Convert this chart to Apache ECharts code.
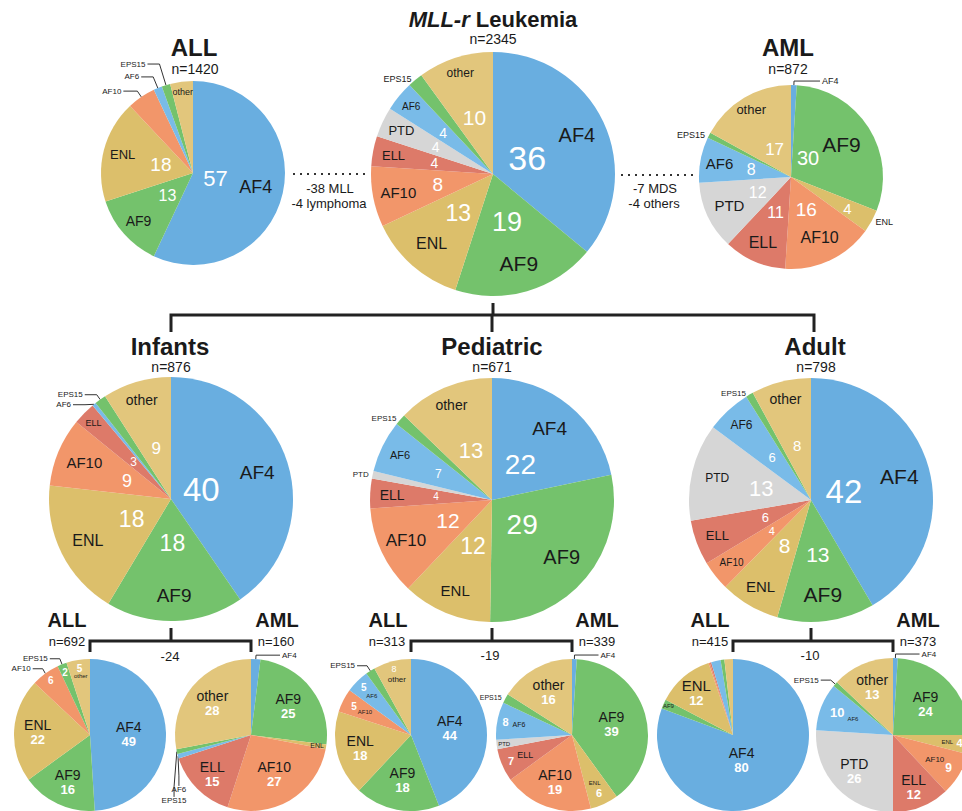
<!DOCTYPE html>
<html><head><meta charset="utf-8">
<script src="https://cdn.jsdelivr.net/npm/echarts@6/dist/echarts.min.js"></script>
<style>html,body{margin:0;padding:0;background:#fff}#c{width:962px;height:811px}</style>
</head><body><div id="c"></div>
<script>
// ---------- DATA ----------
const categories = ['AF4','AF9','ENL','AF10','ELL','PTD','AF6','EPS15','other'];
const totalValues        = [36,19,13,8,4,4,4,2,10];
const allValues          = [57,13,18,5,0,0,1.5,1.5,4];
const amlValues          = [1,30,4,16,11,12,8,1,17];
const infantValues       = [40,18,18,9,3,0,0.5,1.5,9];
const pediatricValues    = [22,29,12,12,4,1,7,1.5,13];
const adultValues        = [42,13,8,4,6,13,6,1,8];
const infantAllValues    = [49,16,22,6,0,0,0,2,5];
const infantAmlValues    = [2,25,1,27,15,0,1,1,28];
const pediatricAllValues = [44,18,18,5,0,0,5,2,8];
const pediatricAmlValues = [1,39,6,19,7,2,8,2,16];
const adultAllValues     = [80,2,12,0.3,0.3,0,2,0.8,1.8];
const adultAmlValues     = [1,24,4,9,12,26,10,1,13];
const groupNames  = ['ALL','AML','Infants','Pediatric','Adult'];
const groupCounts = {total:2345, all:1420, aml:872, inf:876, ped:671, adu:798,
                     infAll:692, infAml:160, pedAll:313, pedAml:339, aduAll:415, aduAml:373};
const excluded = {top:['-38 MLL','-4 lymphoma'], topR:['-7 MDS','-4 others'], inf:'-24', ped:'-19', adu:'-10'};

// ---------- STYLE ----------
const FONT = '"Liberation Sans", Arial, Helvetica, sans-serif';
const colors = {AF4:'#69aee0', AF9:'#74c26c', ENL:'#dcbf6b', AF10:'#f2966a', ELL:'#dd7a69',
                PTD:'#d6d6d6', AF6:'#79bbe8', EPS15:'#74c26c', other:'#e2c67c'};
const DARK = '#1a1a1a';
const N = (f, s, dA) => ({f, s, dA: dA || 0});
const B = (f, s, dA) => ({f, s, dA: dA || 0, bold: true});
const S = (f, s, vs, dA) => ({f, s, vs, dA: dA || 0, stack: true});
const O = (s, len, len2, line, dx, dy) => ({out: true, s, len, len2, line, dx, dy});

const pies = [
 {values: totalValues, cx:493, cy:174, r:122,
  name:{AF4:N(.76,20), AF9:N(.76,21), ENL:N(.76,16), AF10:N(.79,15), ELL:N(.83,13), PTD:N(.83,13), AF6:N(.87,10), other:N(.87,12), EPS15:O(9,1,1,false)},
  num:{AF4:N(.31,34), AF9:N(.41,27), ENL:N(.43,23), AF10:N(.46,19), ELL:N(.49,14), PTD:N(.52,14), AF6:N(.53,14), other:N(.49,21)}},
 {values: allValues, cx:193, cy:173, r:92,
  name:{AF4:N(.70,18), AF9:N(.79,14), ENL:N(.79,13), other:N(.89,9), AF10:O(8,7,14,true), AF6:O(8,12,12,true), EPS15:O(8,22,12,true)},
  num:{AF4:N(.25,22), AF9:N(.37,16), ENL:N(.36,19)}},
 {values: amlValues, cx:791, cy:177, r:92,
  name:{AF9:N(.65,21), AF10:N(.73,16), ELL:N(.77,16), PTD:N(.74,15), AF6:N(.79,15), other:N(.85,13), AF4:O(9,4,26,true), ENL:O(9,1,1,false), EPS15:O(9,1,1,false)},
  num:{AF9:N(.28,20,-16), ENL:N(.70,15), AF10:N(.39,19), ELL:N(.42,16), PTD:N(.40,16), AF6:N(.44,16), other:N(.35,17)}},
 {values: infantValues, cx:171, cy:499, r:122,
  name:{AF4:N(.74,19), AF9:N(.79,19), ENL:N(.76,16), AF10:N(.77,15), ELL:N(.89,9), other:N(.85,14), AF6:O(8,6,12,true), EPS15:O(8,6,12,true)},
  num:{AF4:N(.26,33), AF9:N(.36,23), ENL:N(.36,23), AF10:N(.39,18), ELL:N(.43,12), other:N(.43,17)}},
 {values: pediatricValues, cx:492, cy:500, r:122,
  name:{AF4:N(.75,19), AF9:N(.74,20), ENL:N(.80,15), AF10:N(.78,17), ELL:N(.82,14), AF6:N(.84,11), other:N(.85,14), PTD:O(8,1,1,false), EPS15:O(8,1,1,false)},
  num:{AF4:N(.37,28), AF9:N(.32,28), ENL:N(.41,23), AF10:N(.40,21), ELL:N(.46,10), AF6:N(.49,12), other:N(.44,22)}},
 {values: adultValues, cx:811, cy:500, r:122,
  name:{AF4:N(.75,21), AF9:N(.78,21), ENL:N(.82,15), AF10:N(.83,10), ELL:N(.82,13), PTD:N(.79,12), AF6:N(.84,12), other:N(.85,14), EPS15:O(8,1,1,false)},
  num:{AF4:N(.28,33), AF9:N(.45,21), ENL:N(.43,21), AF10:N(.41,11), ELL:N(.40,13), PTD:N(.42,22), AF6:N(.47,13), other:N(.46,15)}},
 {values: infantAllValues, cx:90, cy:735, r:76,
  name:{AF4:S(.51,14,13), AF9:S(.69,14,13), ENL:S(.69,14,13), other:N(.78,6), AF10:O(8,6,10,true), EPS15:O(8,6,10,true)},
  num:{AF10:B(.88,10), EPS15:B(.89,10), other:B(.89,10)}},
 {values: infantAmlValues, cx:251, cy:735, r:76,
  name:{AF9:S(.62,14,13), ENL:N(.88,7), AF10:S(.60,14,13), ELL:S(.72,14,13), other:S(.66,14,13), AF4:O(8,4,24,true),
        AF6:O(8,6,10,true,26,27), EPS15:O(8,6,10,true,27,48)},
  num:{}},
 {values: pediatricAllValues, cx:411, cy:735, r:76,
  name:{AF4:S(.52,14,13), AF9:S(.60,14,13), ENL:S(.69,14,13), AF10:N(.68,6), AF6:N(.73,6), other:N(.75,8), EPS15:O(8,6,10,true)},
  num:{AF10:B(.84,10), AF6:B(.88,10), other:N(.90,9)}},
 {values: pediatricAmlValues, cx:572, cy:735, r:76,
  name:{AF9:S(.54,14,13), ENL:N(.70,6), AF10:S(.66,14,13), ELL:N(.67,9), PTD:N(.90,6), AF6:N(.71,7), other:S(.64,14,13), AF4:O(8,4,24,true), EPS15:O(7,1,1,false)},
  num:{ENL:B(.84,11), ELL:B(.875,11), AF6:B(.89,11)}},
 {values: adultAllValues, cx:733, cy:735, r:76,
  name:{AF4:S(.35,14,13,16), AF9:N(.93,6), ENL:S(.74,15,13)},
  num:{}},
 {values: adultAmlValues, cx:893, cy:735, r:77,
  name:{AF9:S(.58,14,13), ENL:N(.71,6), AF10:N(.63,8), ELL:S(.73,14,13), PTD:S(.69,14,13), AF6:N(.56,6), other:S(.68,14,13), AF4:O(8,4,24,true), EPS15:O(8,6,10,true)},
  num:{ENL:B(.87,11), AF10:B(.84,12), AF6:B(.78,13)}}
];

let chart;
function layoutFn(specMap){
  return function(params){
    const sp = specMap[categories[params.dataIndex]];
    if (!sp || !chart) return {};
    if (sp.out) {
      if (sp.dx == null) return {};
      const r = params.labelRect;
      return {x: r.x + r.width / 2 + sp.dx, y: r.y + r.height / 2 + sp.dy, align:'center', verticalAlign:'middle'};
    }
    const s = chart.getModel().getSeriesByIndex(params.seriesIndex);
    const lay = s && s.getData().getItemLayout(params.dataIndex);
    if (!lay) return {};
    const mid = (lay.startAngle + lay.endAngle) / 2 + sp.dA * Math.PI / 180;
    return {x: lay.cx + sp.f * lay.r * Math.cos(mid), y: lay.cy + sp.f * lay.r * Math.sin(mid),
            align: 'center', verticalAlign: 'middle'};
  };
}
function labelFor(sp, kind){
  if (!sp) return {show:false};
  if (sp.out) return {show:true, position:'outside', fontSize:sp.s, color:DARK, formatter:'{b}',
                      distanceToLabelLine:2, textBorderWidth:0, fontFamily:FONT};
  if (sp.stack) return {show:true, position:'inside', textBorderWidth:0,
     formatter: p => '{n|' + p.name + '}\n{v|' + p.value + '}',
     rich:{n:{fontSize:sp.s, color:DARK, lineHeight:sp.s + 1, fontFamily:FONT},
           v:{fontSize:sp.vs, fontWeight:'bold', color:'#fff', lineHeight:sp.vs + 1, fontFamily:FONT}}};
  return {show:true, position:'inside', formatter: kind === 'num' ? '{c}' : '{b}', fontSize:sp.s,
          fontWeight: sp.bold ? 'bold' : 'normal', color: kind === 'num' ? '#fff' : DARK,
          textBorderWidth:0, fontFamily:FONT};
}
function buildSeries(p, kind){
  const specMap = kind === 'num' ? p.num : p.name;
  return {
    type:'pie', center:[p.cx, p.cy], radius:[0, p.r], startAngle:90, clockwise:true,
    silent:true, animation:false, avoidLabelOverlap:true, z: kind === 'num' ? 3 : 2,
    emphasis:{disabled:true}, label:{show:false}, labelLine:{show:false},
    labelLayout: layoutFn(specMap),
    data: categories.map((c, k) => {
      const sp = specMap[c];
      const d = {name:c, value:p.values[k],
        itemStyle:{color: kind === 'num' ? 'rgba(0,0,0,0)' : colors[c], borderWidth:0}};
      d.label = p.values[k] > 0 ? labelFor(sp, kind) : {show:false};
      if (sp && sp.out) d.labelLine = {show: sp.line, length: sp.len, length2: sp.len2, smooth:false,
                                       lineStyle:{color:'#333', width:1}};
      return d;
    })
  };
}
const series = [];
pies.forEach(p => { series.push(buildSeries(p, 'name')); series.push(buildSeries(p, 'num')); });

// ---------- annotations ----------
function T(x, y, text, size, bold, extra){
  return {type:'text', x, y, z:100, silent:true,
    style:Object.assign({text, fontSize:size, lineHeight:size, fontWeight: bold ? 'bold' : 'normal', fontFamily:FONT,
      fill:DARK, align:'center', verticalAlign:'middle'}, extra || {})};
}
function L(points, w){ return {type:'polyline', z:90, silent:true, shape:{points},
  style:{stroke:'#222', lineWidth:w || 3, fill:null}}; }
const P = pies;
const graphic = [
  T(493, 19, '{i|MLL-r} Leukemia', 22, true, {rich:{i:{fontStyle:'italic', fontWeight:'bold', fontSize:22, lineHeight:22, fontFamily:FONT, fill:DARK}}}),
  T(493, 39, 'n=' + groupCounts.total, 14),
  T(194, 47, groupNames[0], 24, true), T(195, 69, 'n=' + groupCounts.all, 14),
  T(788, 47, groupNames[1], 24, true), T(788, 69, 'n=' + groupCounts.aml, 14),
  T(170, 346, groupNames[2], 24, true), T(171, 367, 'n=' + groupCounts.inf, 14),
  T(492, 346, groupNames[3], 24, true), T(492, 367, 'n=' + groupCounts.ped, 14),
  T(815, 346, groupNames[4], 24, true), T(816, 367, 'n=' + groupCounts.adu, 14),
  T(67, 620, groupNames[0], 20, true), T(67, 641, 'n=' + groupCounts.infAll, 13),
  T(277, 620, groupNames[1], 20, true), T(276, 641, 'n=' + groupCounts.infAml, 13),
  T(388, 620, groupNames[0], 20, true), T(387, 641, 'n=' + groupCounts.pedAll, 13),
  T(597, 620, groupNames[1], 20, true), T(597, 641, 'n=' + groupCounts.pedAml, 13),
  T(710, 620, groupNames[0], 20, true), T(710, 641, 'n=' + groupCounts.aduAll, 13),
  T(918, 620, groupNames[1], 20, true), T(918, 641, 'n=' + groupCounts.aduAml, 13),
  T(330, 188, excluded.top[0], 13), T(329, 203, excluded.top[1], 13),
  T(655, 188, excluded.topR[0], 13), T(654, 203, excluded.topR[1], 13),
  T(170, 656, excluded.inf, 13), T(490, 655, excluded.ped, 13), T(810, 655, excluded.adu, 13),
  {type:'line', z:90, silent:true, shape:{x1:293, y1:174, x2:367, y2:174}, style:{stroke:'#333', lineWidth:2, lineDash:[2,5]}},
  {type:'line', z:90, silent:true, shape:{x1:621, y1:175, x2:695, y2:175}, style:{stroke:'#333', lineWidth:2, lineDash:[2,5]}},
  // top bracket
  L([[P[0].cx, 303], [P[0].cx, 315]]),
  L([[P[3].cx, 332], [P[3].cx, 315], [P[5].cx + 3, 315], [P[5].cx + 3, 332]]),
  L([[P[4].cx, 315], [P[4].cx, 332]]),
  // bottom brackets
  L([[P[3].cx, 628], [P[3].cx, 641]]),
  L([[P[6].cx, 652], [P[6].cx, 641], [P[7].cx, 641], [P[7].cx, 652]]),
  L([[P[4].cx, 628], [P[4].cx, 641]]),
  L([[P[8].cx, 652], [P[8].cx, 641], [P[9].cx, 641], [P[9].cx, 652]]),
  L([[P[5].cx, 628], [P[5].cx, 641]]),
  L([[P[10].cx, 652], [P[10].cx, 641], [P[11].cx, 641], [P[11].cx, 652]])
];

chart = echarts.init(document.getElementById('c'), null, {renderer:'svg', width:962, height:811});
chart.setOption({
  backgroundColor:'#ffffff', animation:false,
  textStyle:{fontFamily:FONT},
  series, graphic
});
</script></body></html>
